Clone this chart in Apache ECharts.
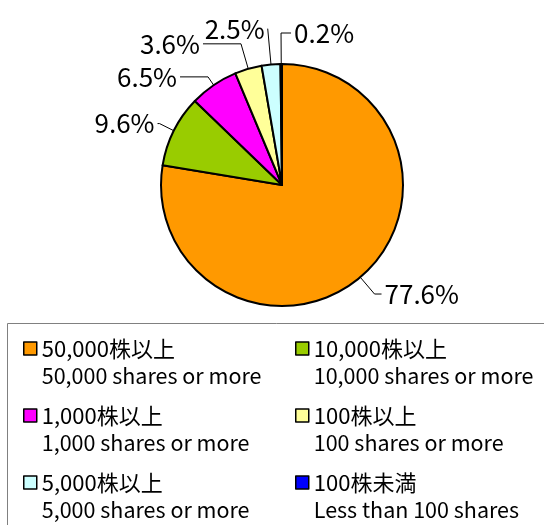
<!DOCTYPE html>
<html>
<head>
<meta charset="utf-8">
<script src="https://cdn.jsdelivr.net/npm/echarts@6/dist/echarts.min.js"></script>
<style>
html, body { margin: 0; padding: 0; background: #fff; }
#chart { width: 544px; height: 525px; }
</style>
</head>
<body>
<div id="chart"></div>
<script>
// shareholding distribution, in pie order (clockwise from 12 o'clock)
var categories = ['50,000株以上', '10,000株以上', '1,000株以上', '100株以上', '5,000株以上', '100株未満'];
var categoriesEn = ['50,000 shares or more', '10,000 shares or more', '1,000 shares or more',
    '100 shares or more', '5,000 shares or more', 'Less than 100 shares'];
var shares = [77.6, 9.6, 6.5, 3.6, 2.5, 0.2];
var colors = ['#FF9900', '#99CC00', '#FF00FF', '#FFFF99', '#CCFFFF', '#0000FF'];

var legendLeft = [categories[0], categories[2], categories[4]];
var legendRight = [categories[1], categories[3], categories[5]];

// label line lengths per slice (radial part, horizontal part)
var lineLen = [22, 16, 10, 26, 36, 31];
var lineLen2 = [7, 2, 28, 38, 0, 10];

var pieData = categories.map(function (name, i) {
    return {
        name: name,
        value: shares[i],
        itemStyle: { color: colors[i] },
        labelLine: { length: lineLen[i], length2: lineLen2[i] }
    };
});

function legendText(name) {
    var en = categoriesEn[categories.indexOf(name)];
    return '\n{a|' + name + '}\n{b|' + en + '}';
}

var legendBase = {
    orient: 'vertical',
    top: 308,
    padding: 0,
    itemGap: -14,
    itemWidth: 13,
    itemHeight: 13,
    icon: 'rect',
    selectedMode: false,
    itemStyle: { borderColor: '#000', borderWidth: 1.5 },
    formatter: legendText,
    textStyle: {
        color: '#000',
        fontFamily: 'Noto Sans CJK JP',
        fontSize: 21,
        lineHeight: 27,
        rich: {
            a: { fontSize: 22, lineHeight: 27, color: '#000', fontFamily: 'Noto Sans CJK JP' },
            b: { fontSize: 21.5, lineHeight: 27, color: '#000', fontFamily: 'Noto Sans CJK JP' }
        }
    }
};

var myChart = echarts.init(document.getElementById('chart'));
var option = {
    backgroundColor: '#fff',
    animation: false,
    graphic: [{
        type: 'rect',
        shape: { x: 7.5, y: 323.5, width: 600, height: 300 },
        style: { fill: 'none', stroke: '#808080', lineWidth: 1 }
    }],
    legend: [
        Object.assign({}, legendBase, { left: 23, data: legendLeft }),
        Object.assign({}, legendBase, { left: 295, data: legendRight })
    ],
    series: [{
        name: '所有株数別',
        type: 'pie',
        center: [282, 185],
        radius: 121,
        startAngle: 90,
        clockwise: true,
        avoidLabelOverlap: false,
        itemStyle: { borderColor: '#000', borderWidth: 2 },
        label: {
            show: true,
            position: 'outside',
            formatter: function (p) { return p.value.toFixed(1) + '%'; },
            color: '#000',
            fontFamily: 'Noto Sans CJK JP',
            fontSize: 26,
            distanceToLabelLine: 3
        },
        labelLine: {
            show: true,
            smooth: false,
            lineStyle: { color: '#000', width: 1 }
        },
        // the smallest slice sits just left of 12 o'clock; its label is mirrored to the right
        labelLayout: function (params) {
            if (params.dataIndex !== categories.length - 1) return {};
            var p = params.labelLinePoints;
            var end = [2 * p[1][0] - p[2][0], p[2][1]];
            return {
                x: end[0] + 3,
                y: end[1],
                align: 'left',
                verticalAlign: 'middle',
                labelLinePoints: [p[0], p[1], end]
            };
        },
        emphasis: { disabled: true },
        data: pieData
    }]
};
myChart.setOption(option);
</script>
</body>
</html>
